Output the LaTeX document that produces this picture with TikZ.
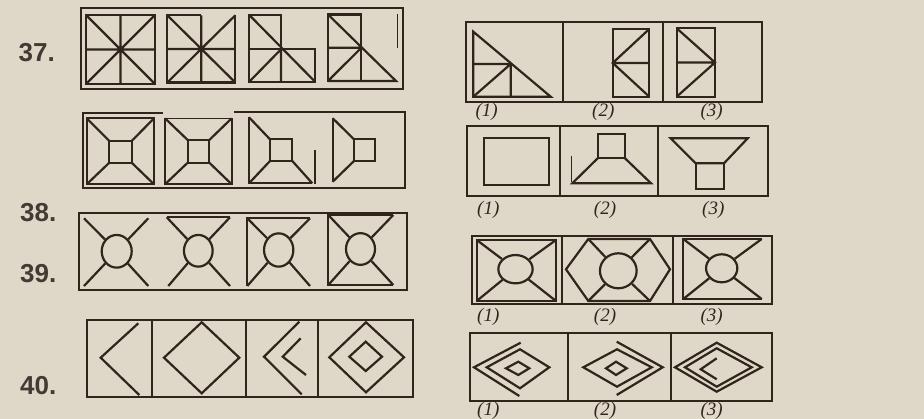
\documentclass[tikz,border=0pt]{standalone}
\usepackage{fontspec}
\setmainfont{Liberation Serif}
\newfontfamily\numfont{Liberation Sans}
\usetikzlibrary{shapes.geometric}
\definecolor{paper}{RGB}{223,216,200}
\definecolor{ink}{RGB}{48,36,28}
\tikzset{
  fig/.style={draw=ink, line width=2.2pt, line join=miter},
  frm/.style={draw=ink, line width=2pt},
  thin/.style={draw=ink, line width=0.9pt},
  circ/.style={ellipse, draw=ink, line width=2.2pt, inner sep=0pt},
  qnum/.style={font=\numfont\bfseries\fontsize{26}{26}\selectfont, text=ink!90},
  optlabel/.style={font=\itshape\fontsize{19}{19}\selectfont, text=ink}
}
\begin{document}
\begin{tikzpicture}[x=1pt,y=-1pt]
\fill[paper] (0,0) rectangle (924,419);
\useasboundingbox (0,0) rectangle (924,419);

% ---------------- Q37 ----------------
\node[qnum] (n37) at (36.7,52.5) {37.};
\draw[frm] (81,8) rectangle (403,89);
% fig 1
\draw[fig] (86,15) rectangle (155,84);
\draw[fig] (120.5,15)--(120.5,84) (86,49.5)--(155,49.5) (86,15)--(155,84) (86,84)--(155,15);
% fig 2
\draw[fig] (201.3,15.3)--(167.3,15.3)--(167.3,82.5)--(235.3,82.5)--(235.3,15.3);
\draw[fig] (201.3,15.3)--(201.3,82.5) (167.3,49)--(235.3,49) (167.3,15.3)--(235.3,82.5) (167.3,82.5)--(235.3,15.3);
% fig 3
\draw[fig] (281,49.3)--(281,15)--(249.3,15)--(249.3,81.7)--(315,81.7)--(315,49.3)--(249.3,49.3);
\draw[fig] (281,49.3)--(281,81.7) (249.3,15)--(315,81.7) (249.3,81.7)--(281,49.3);
% fig 4
\draw[fig] (328,14.5) rectangle (361.3,81);
\draw[fig] (328,47.8)--(361.3,47.8) (328,14.5)--(396,81)--(328,81) (328,81)--(361.3,47.8);
\draw[thin] (397.3,14)--(397.3,48);
% options
\draw[frm] (466,22.3) rectangle (761.7,102.3);
\draw[frm] (562.7,22.3)--(562.7,102.3) (663.3,22.3)--(663.3,102.3);
\draw[fig] (473.3,31.7)--(473.3,96.7)--(550.7,96.7)--cycle;
\draw[fig] (473.3,64)--(510.7,64)--(510.7,96.7) (473.3,96.7)--(510.7,64);
\draw[fig] (612.7,29) rectangle (649.3,96.7);
\draw[fig] (612.7,63)--(649.3,63) (649.3,29)--(612.7,63)--(649.3,96.7);
\draw[fig] (676.7,28.3) rectangle (715,96.7);
\draw[fig] (676.7,62.5)--(715,62.5) (676.7,28.3)--(715,62.5)--(676.7,96.7);
\node[optlabel] (l371) at (486.7,111.7) {(1)};
\node[optlabel] (l372) at (603.3,111.7) {(2)};
\node[optlabel] (l373) at (711.7,111.7) {(3)};

% ---------------- Q38 ----------------
\node[qnum] (n38) at (38.3,212.5) {38.};
\draw[frm] (162.7,113.3)--(82.7,113.3)--(82.7,188.3)--(405,188.3)--(405,112.3)--(234,112.3);
% fig 1
\draw[fig] (86.7,118.3) rectangle (154,184.3) (109.3,141) rectangle (131.7,162.7);
\draw[fig] (86.7,118.3)--(109.3,141) (154,118.3)--(131.7,141) (86.7,184.3)--(109.3,162.7) (154,184.3)--(131.7,162.7);
% fig 2
\draw[fig] (165,118.3)--(165,184.3)--(231.7,184.3)--(231.7,118.3);
\draw[thin] (165,118.3)--(231.7,118.3);
\draw[fig] (187.7,140) rectangle (209.3,162.7);
\draw[fig] (165,118.3)--(187.7,140) (231.7,118.3)--(209.3,140) (165,184.3)--(187.7,162.7) (231.7,184.3)--(209.3,162.7);
% fig 3
\draw[fig] (249,117.3)--(249,183.3)--(312.3,183.3);
\draw[fig] (270,139.3) rectangle (292.3,161);
\draw[fig] (249,117.3)--(270,139.3) (249,183.3)--(270,161) (292.3,161)--(312.3,183.3);
\draw[fig] (315,150)--(315,184.5);
% fig 4
\draw[fig] (332.7,118.3)--(332.7,181.7);
\draw[fig] (354,139.3) rectangle (375,161);
\draw[fig] (332.7,118.3)--(354,139.3) (332.7,181.7)--(354,161);
% options
\draw[frm] (467.3,125.7) rectangle (768.3,196);
\draw[frm] (560,125.7)--(560,196) (658.3,125.7)--(658.3,196);
\draw[fig] (484,137.7) rectangle (549.3,185);
\draw[fig] (597.7,134.3) rectangle (625,158.3);
\draw[fig] (597.7,158.3)--(572.3,183.3)--(651,183.3)--(625,158.3);
\draw[thin] (571.7,155.7)--(571.7,181.7);
\draw[fig] (670.7,138.3)--(747.7,138.3)--(724,163.3)--(695.7,163.3)--cycle;
\draw[fig] (695.7,163.3) rectangle (724,189.3);
\node[optlabel] (l381) at (488.3,210) {(1)};
\node[optlabel] (l382) at (605,210) {(2)};
\node[optlabel] (l383) at (713.3,210) {(3)};

% ---------------- Q39 ----------------
\node[qnum] (n39) at (38.3,274) {39.};
\draw[frm] (79.3,212.7) rectangle (406.7,290);
% fig 1
\node[circ, minimum width=30pt, minimum height=32.7pt] (e1) at (116.7,251.3) {};
\draw[fig] (84,218.3)--(e1) (148.3,218.3)--(e1) (84,286)--(e1) (148.3,286)--(e1);
% fig 2
\node[circ, minimum width=28.7pt, minimum height=31.7pt] (e2) at (198.3,250.8) {};
\draw[fig] (166.7,217.3)--(230,217.3);
\draw[fig] (166.7,217.3)--(e2) (230,217.3)--(e2) (168.3,286)--(e2) (230,286)--(e2);
% fig 3
\node[circ, minimum width=29.3pt, minimum height=33.3pt] (e3) at (278.7,250) {};
\draw[fig] (310,218.3)--(247.3,218.3)--(247.3,286);
\draw[fig] (247.3,218.3)--(e3) (310,218.3)--(e3) (247.3,286)--(e3) (310,286)--(e3);
% fig 4
\node[circ, minimum width=29pt, minimum height=31.7pt] (e4) at (360.5,249) {};
\draw[fig] (393.3,215)--(328.3,215)--(328.3,285)--(393.3,285);
\draw[fig] (328.3,215)--(e4) (393.3,215)--(e4) (328.3,285)--(e4) (393.3,285)--(e4);
% options
\draw[frm] (472.3,235.7) rectangle (771.7,304.3);
\draw[frm] (561.7,235.7)--(561.7,304.3) (672.7,235.7)--(672.7,304.3);
\draw[fig] (476.7,240) rectangle (556,301);
\node[circ, minimum width=34.3pt, minimum height=28.3pt] (o1) at (515.5,269.2) {};
\draw[fig] (476.7,240)--(o1) (556,240)--(o1) (476.7,301)--(o1) (556,301)--(o1);
\draw[fig] (566,269.3)--(588.3,239)--(650,239)--(670,269.3)--(650,301)--(588.3,301)--cycle;
\node[circ, minimum width=36.7pt, minimum height=35pt] (o2) at (618.3,270.8) {};
\draw[fig] (588.3,239)--(o2) (650,239)--(o2) (588.3,301)--(o2) (650,301)--(o2);
\draw[fig] (761.7,239)--(683.3,239)--(683.3,299)--(761.7,299);
\node[circ, minimum width=31.3pt, minimum height=28pt] (o3) at (721.7,268.3) {};
\draw[fig] (683.3,239)--(o3) (761.7,239)--(o3) (683.3,299)--(o3) (761.7,299)--(o3);
\node[optlabel] (l391) at (488.3,316.7) {(1)};
\node[optlabel] (l392) at (605,316.7) {(2)};
\node[optlabel] (l393) at (711.7,316.7) {(3)};

% ---------------- Q40 ----------------
\node[qnum] (n40) at (38.3,386) {40.};
\draw[frm] (86.7,320) rectangle (412.7,396.7);
\draw[frm] (151.7,320)--(151.7,396.7) (246,320)--(246,396.7) (318.3,320)--(318.3,396.7);
\draw[fig] (138.3,323.3)--(100.7,357.7)--(139.3,395);
\draw[fig] (201.7,322.3)--(239.3,357.7)--(201.7,393.3)--(164,357.7)--cycle;
\draw[fig] (299.3,321.7)--(264,356.7)--(301.7,394.3);
\draw[fig] (300.7,338.3)--(282.7,356.7)--(306,375);
\draw[fig] (366,322.3)--(404,357.3)--(366,392.3)--(329.3,357.3)--cycle;
\draw[fig] (365.7,341.7)--(382,356.7)--(365.7,371)--(349.3,356.7)--cycle;
% options
\draw[frm] (470,333.3) rectangle (771.7,400.7);
\draw[frm] (568.3,333.3)--(568.3,400.7) (671,333.3)--(671,400.7);
\draw[fig] (520.7,342.7)--(474,367.3)--(519.3,396);
\draw[fig] (520,349.3)--(549.3,367.3)--(520,388.3)--(486.7,367.3)--cycle;
\draw[fig] (518.3,361.7)--(529.3,368.3)--(518.3,375)--(506,368.3)--cycle;
\draw[fig] (616.7,341.7)--(662.7,367.3)--(616.7,395);
\draw[fig] (617,349.3)--(651.7,367.3)--(617,386.7)--(583.3,367.3)--cycle;
\draw[fig] (616,361.7)--(626.7,368.3)--(616,375)--(606,368.3)--cycle;
\draw[fig] (716.7,342.7)--(761.7,367.3)--(716.7,391.7)--(675,367.3)--cycle;
\draw[fig] (716.7,348.3)--(751.7,367.3)--(716.7,386.7)--(685,367.3)--cycle;
\draw[fig] (716.7,358.3)--(700.7,369.3)--(716.7,379.3);
\node[optlabel] (l401) at (488.3,410.7) {(1)};
\node[optlabel] (l402) at (605,410.7) {(2)};
\node[optlabel] (l403) at (711.7,410.7) {(3)};
\end{tikzpicture}
\end{document}
